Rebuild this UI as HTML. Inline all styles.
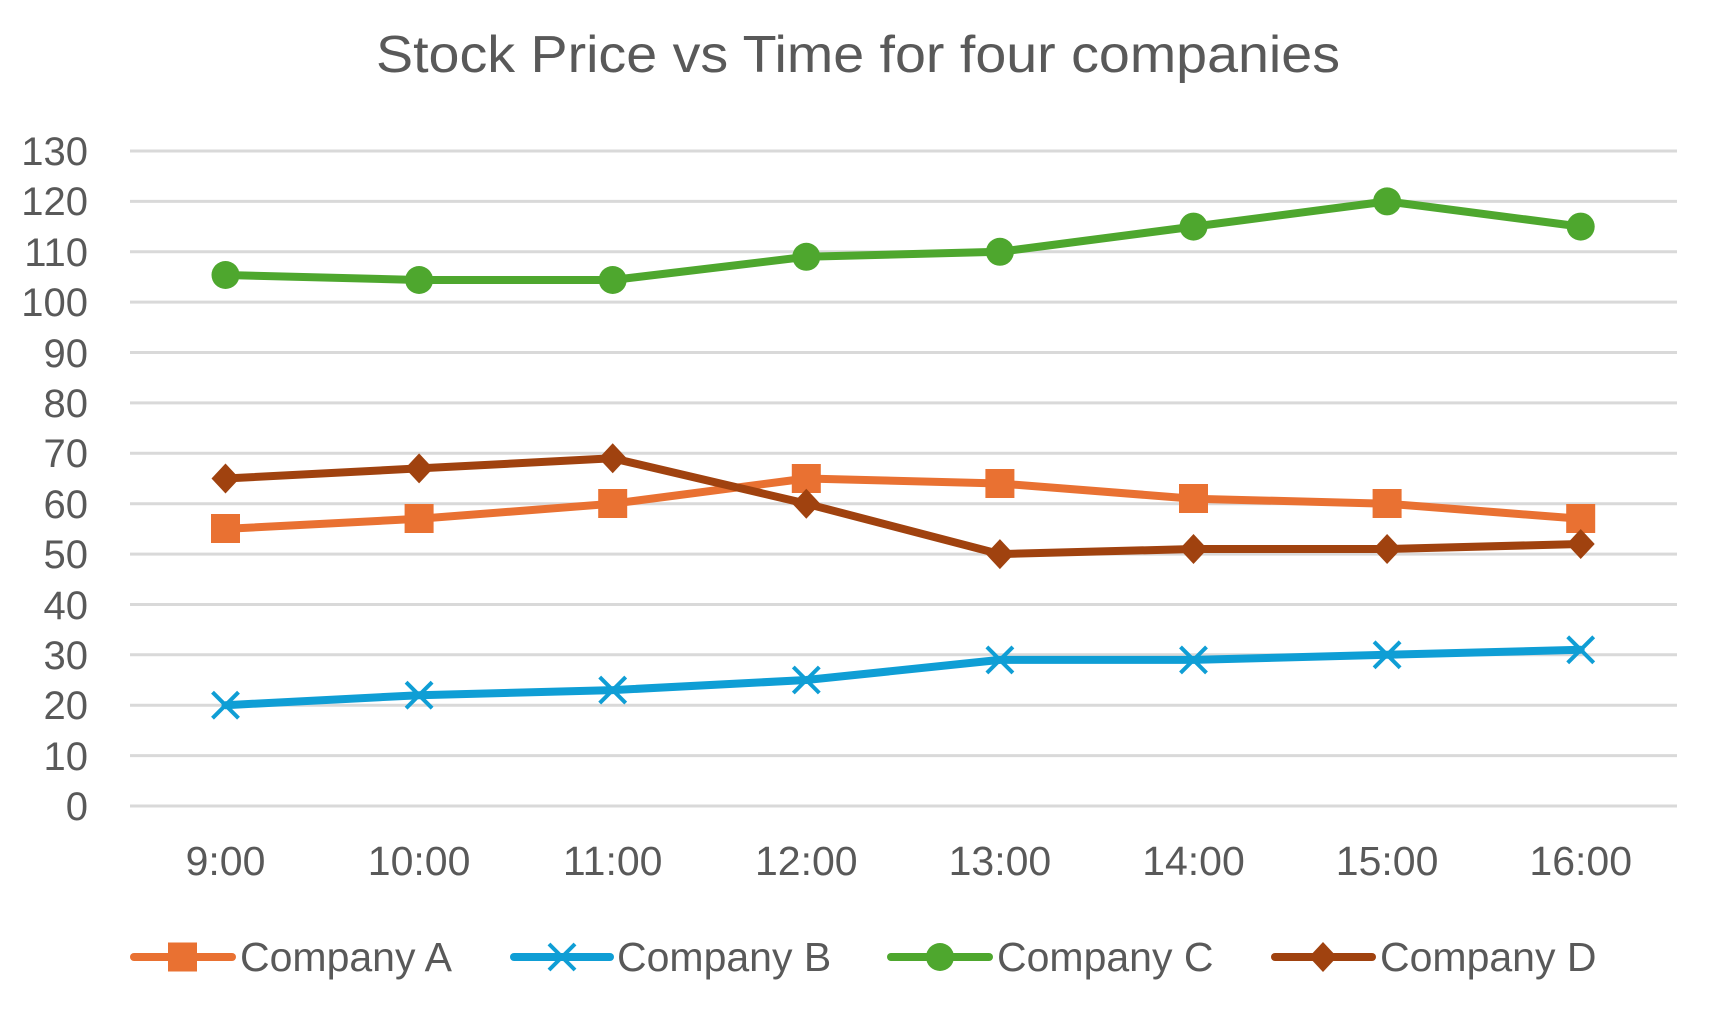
<!DOCTYPE html>
<html><head><meta charset="utf-8"><style>
html,body{margin:0;padding:0;background:#fff;}
svg{display:block;font-family:"Liberation Sans",sans-serif;}
</style></head><body>
<svg width="1722" height="1010" viewBox="0 0 1722 1010" xmlns="http://www.w3.org/2000/svg">
<rect width="1722" height="1010" fill="#fff"/>
<text x="858" y="72" text-anchor="middle" font-size="52" fill="#595959" textLength="964" lengthAdjust="spacingAndGlyphs">Stock Price vs Time for four companies</text>
<g stroke="#D9D9D9" stroke-width="3">
<line x1="130" x2="1677" y1="151" y2="151"/><line x1="130" x2="1677" y1="201.4" y2="201.4"/><line x1="130" x2="1677" y1="251.8" y2="251.8"/><line x1="130" x2="1677" y1="302.1" y2="302.1"/><line x1="130" x2="1677" y1="352.5" y2="352.5"/><line x1="130" x2="1677" y1="402.9" y2="402.9"/><line x1="130" x2="1677" y1="453.3" y2="453.3"/><line x1="130" x2="1677" y1="503.7" y2="503.7"/><line x1="130" x2="1677" y1="554.1" y2="554.1"/><line x1="130" x2="1677" y1="604.5" y2="604.5"/><line x1="130" x2="1677" y1="654.8" y2="654.8"/><line x1="130" x2="1677" y1="705.2" y2="705.2"/><line x1="130" x2="1677" y1="755.6" y2="755.6"/><line x1="130" x2="1677" y1="806" y2="806"/>
</g>
<g font-size="40" fill="#595959" text-anchor="end">
<text x="88" y="165">130</text><text x="88" y="215">120</text><text x="88" y="266">110</text><text x="88" y="316">100</text><text x="88" y="367">90</text><text x="88" y="417">80</text><text x="88" y="467">70</text><text x="88" y="518">60</text><text x="88" y="568">50</text><text x="88" y="619">40</text><text x="88" y="669">30</text><text x="88" y="719">20</text><text x="88" y="770">10</text><text x="88" y="820">0</text>
</g>
<g font-size="41" fill="#595959" text-anchor="middle">
<text x="225.5" y="875">9:00</text><text x="419.1" y="875">10:00</text><text x="612.7" y="875">11:00</text><text x="806.3" y="875">12:00</text><text x="999.9" y="875">13:00</text><text x="1193.5" y="875">14:00</text><text x="1387.1" y="875">15:00</text><text x="1580.7" y="875">16:00</text>
</g>
<g fill="none" stroke-width="8" stroke-linejoin="round" stroke-linecap="round">
<polyline stroke="#E97132" points="225.5,528.9 419.1,518.8 612.7,503.7 806.3,478.5 999.9,483.5 1193.5,498.7 1387.1,503.7 1580.7,518.8"/>
<polyline stroke="#0F9ED5" points="225.5,705.2 419.1,695.2 612.7,690.1 806.3,680 999.9,659.9 1193.5,659.9 1387.1,654.8 1580.7,649.8"/>
<polyline stroke="#4EA72E" points="225.5,275 419.1,280 612.7,280 806.3,256.8 999.9,251.8 1193.5,226.6 1387.1,201.4 1580.7,226.6"/>
<polyline stroke="#A0420F" points="225.5,478.5 419.1,468.4 612.7,458.3 806.3,503.7 999.9,554.1 1193.5,549 1387.1,549 1580.7,544"/>
</g>
<g fill="#E97132">
<rect x="211" y="514" width="29" height="29"/><rect x="404.6" y="504" width="29" height="29"/><rect x="598.2" y="489" width="29" height="29"/><rect x="791.8" y="464" width="29" height="29"/><rect x="985.4" y="469" width="29" height="29"/><rect x="1179" y="484" width="29" height="29"/><rect x="1372.6" y="489" width="29" height="29"/><rect x="1566.2" y="504" width="29" height="29"/>
</g>
<g stroke="#0F9ED5" stroke-width="4" fill="none">
<path d="M212.5,692.2l26,26M238.5,692.2l-26,26"/><path d="M406.1,682.2l26,26M432.1,682.2l-26,26"/><path d="M599.7,677.1l26,26M625.7,677.1l-26,26"/><path d="M793.3,667l26,26M819.3,667l-26,26"/><path d="M986.9,646.9l26,26M1012.9,646.9l-26,26"/><path d="M1180.5,646.9l26,26M1206.5,646.9l-26,26"/><path d="M1374.1,641.8l26,26M1400.1,641.8l-26,26"/><path d="M1567.7,636.8l26,26M1593.7,636.8l-26,26"/>
</g>
<g fill="#4EA72E">
<circle cx="225.5" cy="275" r="14"/><circle cx="419.1" cy="280" r="14"/><circle cx="612.7" cy="280" r="14"/><circle cx="806.3" cy="256.8" r="14"/><circle cx="999.9" cy="251.8" r="14"/><circle cx="1193.5" cy="226.6" r="14"/><circle cx="1387.1" cy="201.4" r="14"/><circle cx="1580.7" cy="226.6" r="14"/>
</g>
<g fill="#A0420F">
<path d="M225.5,463.5l14,15l-14,15l-14,-15z"/><path d="M419.1,453.4l14,15l-14,15l-14,-15z"/><path d="M612.7,443.3l14,15l-14,15l-14,-15z"/><path d="M806.3,488.7l14,15l-14,15l-14,-15z"/><path d="M999.9,539.1l14,15l-14,15l-14,-15z"/><path d="M1193.5,534l14,15l-14,15l-14,-15z"/><path d="M1387.1,534l14,15l-14,15l-14,-15z"/><path d="M1580.7,529l14,15l-14,15l-14,-15z"/>
</g>
<g stroke-width="8" stroke-linecap="round">
<line x1="134" x2="232" y1="957" y2="957" stroke="#E97132"/>
<line x1="514" x2="610" y1="957" y2="957" stroke="#0F9ED5"/>
<line x1="891" x2="989" y1="957" y2="957" stroke="#4EA72E"/>
<line x1="1275" x2="1372" y1="957" y2="957" stroke="#A0420F"/>
</g>
<rect x="168" y="942.5" width="29" height="29" fill="#E97132"/>
<path d="M549,944l26,26M575,944l-26,26" stroke="#0F9ED5" stroke-width="4"/>
<circle cx="940" cy="957" r="14" fill="#4EA72E"/>
<path d="M1323,942l14,15l-14,15l-14,-15z" fill="#A0420F"/>
<g font-size="41" fill="#595959">
<text x="240" y="971">Company A</text>
<text x="617" y="971">Company B</text>
<text x="997" y="971">Company C</text>
<text x="1380" y="971">Company D</text>
</g>
</svg>
</body></html>
